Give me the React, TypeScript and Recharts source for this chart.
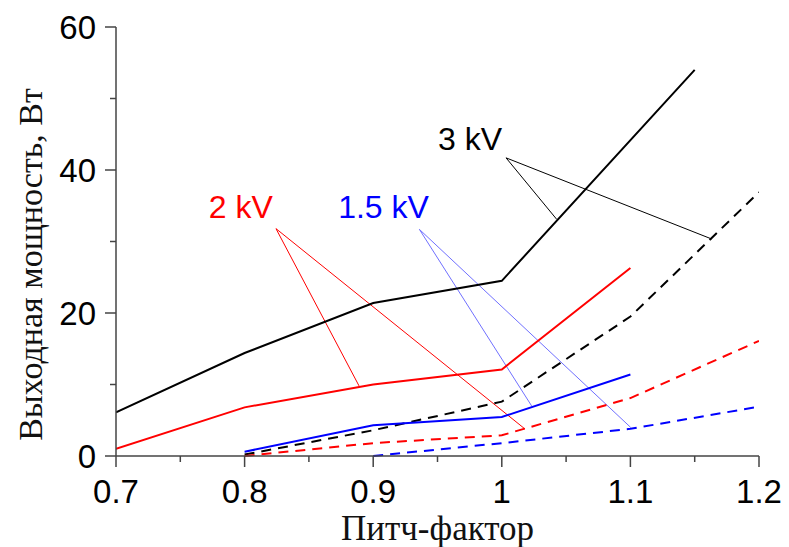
import React from 'react';
import { LineChart, Line, XAxis, YAxis, ReferenceLine, ReferenceDot } from 'recharts';

// 3 kV
const pitch3kV = [0.7, 0.8, 0.9, 1.0, 1.15];
const power3kV = [6.1, 14.4, 21.4, 24.5, 54];
const pitch3kVDashed = [0.8, 0.9, 1.0, 1.1, 1.2];
const power3kVDashed = [0.2, 3.6, 7.6, 19.5, 36.9];

// 2 kV
const pitch2kV = [0.7, 0.8, 0.9, 1.0, 1.1];
const power2kV = [1.0, 6.8, 10.0, 12.1, 26.3];
const pitch2kVDashed = [0.8, 0.9, 1.0, 1.1, 1.2];
const power2kVDashed = [0, 1.8, 2.9, 8.1, 16.1];

// 1.5 kV
const pitch15kV = [0.8, 0.9, 1.0, 1.1];
const power15kV = [0.6, 4.3, 5.45, 11.4];
const pitch15kVDashed = [0.9, 1.0, 1.1, 1.2];
const power15kVDashed = [0, 1.8, 3.8, 6.9];

const xTicks = [0.7, 0.75, 0.8, 0.85, 0.9, 0.95, 1.0, 1.05, 1.1, 1.15, 1.2];
const yTicks = [0, 10, 20, 30, 40, 50, 60];

// annotation labels: [pitch, power]
const label3kV = [0.9753, 44.4];
const label2kV = [0.797, 34.9];
const label15kV = [0.908, 34.9];

// leader lines: origin, then the two curve points
const leader3kV = [[1.0033, 41.7], [1.0427, 33.1], [1.1632, 30.35]];
const leader2kV = [[0.8244, 31.8], [0.889, 9.8], [1.018, 3.78]];
const leader15kV = [[0.9359, 31.7], [1.0232, 7.0], [1.1002, 4.0]];

const toPoints = (xs: number[], ys: number[]) => xs.map((x, i) => ({ x, y: ys[i] }));

const SANS = 'Liberation Sans, Arial, sans-serif';
const SERIF = 'Liberation Serif, Times New Roman, serif';
const AXIS = '#444';

const fmt = (v: number) => String(Number(v.toFixed(2)));

const XTick = (props: any) => {
  const { x, y, payload } = props;
  const v = payload.value;
  const major = Math.abs(Math.round(v * 10) - v * 10) < 1e-6;
  return (
    <g>
      <line x1={x} x2={x} y1={y} y2={y + (major ? 11 : 6)} stroke={AXIS} strokeWidth={1.5} />
      {major && (
        <text x={x} y={y + 35} textAnchor="middle" dominantBaseline="central" fontSize={33} fontFamily={SANS} fill="#000">
          {fmt(v)}
        </text>
      )}
    </g>
  );
};

const YTick = (props: any) => {
  const { x, y, payload } = props;
  const v = payload.value;
  const major = v % 20 === 0;
  return (
    <g>
      <line x1={x} x2={x - (major ? 11 : 6)} y1={y} y2={y} stroke={AXIS} strokeWidth={1.5} />
      {major && (
        <text x={x - 20} y={y} textAnchor="end" dominantBaseline="central" fontSize={33} fontFamily={SANS} fill="#000">
          {v}
        </text>
      )}
    </g>
  );
};

const YLabel = (props: any) => {
  const { viewBox } = props;
  const cx = viewBox.x + 42;
  const cy = viewBox.y + viewBox.height / 2 + 23;
  return (
    <text x={cx} y={cy} transform={`rotate(-90, ${cx}, ${cy})`} textAnchor="middle" fontSize={34} fontFamily={SERIF} fill="#111">
      Выходная мощность, Вт
    </text>
  );
};

const XLabel = (props: any) => {
  const { viewBox } = props;
  return (
    <text x={viewBox.x + viewBox.width / 2} y={viewBox.y + 84} textAnchor="middle" fontSize={35} fontFamily={SERIF} fill="#111">
      Питч-фактор
    </text>
  );
};

const leaderLines = (pts: number[][], color: string, key: string) =>
  pts.slice(1).map((p, i) => (
    <ReferenceLine
      key={`${key}-${i}`}
      segment={[{ x: pts[0][0], y: pts[0][1] }, { x: p[0], y: p[1] }]}
      stroke={color}
      strokeWidth={1}
    />
  ));

const tag = (pos: number[], text: string, color: string) => (
  <ReferenceDot
    x={pos[0]}
    y={pos[1]}
    r={1}
    fill="none"
    stroke="none"
    label={{ value: text, position: 'center', fill: color, fontSize: 32, fontFamily: SANS }}
  />
);

export default function App() {
  return (
    <div style={{ position: 'absolute', left: 0, top: 0, background: '#fff' }}>
      <LineChart width={789} height={547} margin={{ top: 27, right: 30, bottom: 0, left: 0 }}>
        <XAxis
          dataKey="x"
          type="number"
          domain={[0.7, 1.2]}
          ticks={xTicks}
          interval={0}
          allowDataOverflow
          height={91}
          tickSize={0}
          tickMargin={0}
          tickLine={false}
          tick={<XTick />}
          axisLine={{ stroke: AXIS, strokeWidth: 1.5 }}
          label={<XLabel />}
        />
        <YAxis
          type="number"
          domain={[0, 60]}
          ticks={yTicks}
          interval={0}
          width={116}
          tickSize={0}
          tickMargin={0}
          tickLine={false}
          tick={<YTick />}
          axisLine={{ stroke: AXIS, strokeWidth: 1.5 }}
          label={<YLabel />}
        />
        {leaderLines(leader3kV, '#000', 'l3')}
        {leaderLines(leader2kV, '#ff0000', 'l2')}
        {leaderLines(leader15kV, '#7070ff', 'l15')}
        <Line data={toPoints(pitch3kV, power3kV)} dataKey="y" type="linear" stroke="#000" strokeWidth={2} dot={false} isAnimationActive={false} />
        <Line data={toPoints(pitch3kVDashed, power3kVDashed)} dataKey="y" type="linear" stroke="#000" strokeWidth={2} strokeDasharray="10 7" dot={false} isAnimationActive={false} />
        <Line data={toPoints(pitch2kV, power2kV)} dataKey="y" type="linear" stroke="#ff0000" strokeWidth={2} dot={false} isAnimationActive={false} />
        <Line data={toPoints(pitch2kVDashed, power2kVDashed)} dataKey="y" type="linear" stroke="#ff0000" strokeWidth={2} strokeDasharray="10 7" dot={false} isAnimationActive={false} />
        <Line data={toPoints(pitch15kV, power15kV)} dataKey="y" type="linear" stroke="#0000ff" strokeWidth={2} dot={false} isAnimationActive={false} />
        <Line data={toPoints(pitch15kVDashed, power15kVDashed)} dataKey="y" type="linear" stroke="#0000ff" strokeWidth={2} strokeDasharray="10 7" dot={false} isAnimationActive={false} />
        {tag(label3kV, '3 kV', '#000')}
        {tag(label2kV, '2 kV', '#ff0000')}
        {tag(label15kV, '1.5 kV', '#0000ff')}
      </LineChart>
    </div>
  );
}
